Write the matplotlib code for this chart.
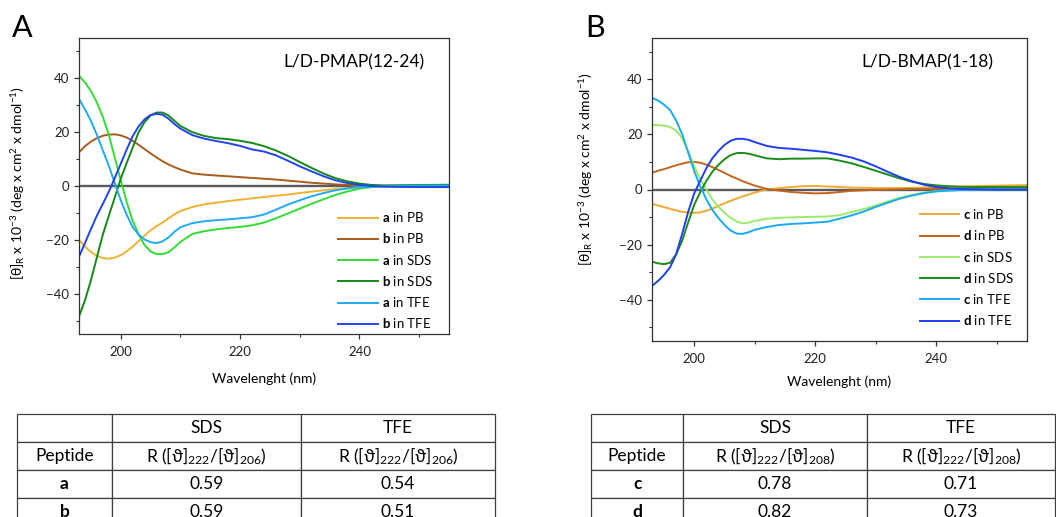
import numpy as np
import matplotlib
matplotlib.use("Agg")
import matplotlib.pyplot as plt
from matplotlib.ticker import MultipleLocator

plt.rcParams['font.family'] = ['Lato', 'DejaVu Sans']
plt.rcParams['mathtext.fontset'] = 'custom'
plt.rcParams['mathtext.rm'] = 'Lato'
plt.rcParams['mathtext.bf'] = 'Lato:bold'
plt.rcParams['mathtext.it'] = 'Lato:italic'

# wavelength grid (nm), shared by all curves
wl = [193, 194, 195, 196, 197, 198, 199, 200, 201, 202, 203, 204, 205, 206, 207, 208, 209, 210,
      212, 214, 216, 218, 220, 222, 224, 226, 228, 230, 232, 234, 236, 238, 240, 242, 244, 246, 250, 255]

# panel A: L/D-PMAP(12-24)
a_pb = [-20.0, -22.5, -24.5, -26.0, -26.8, -27.0, -26.6, -25.7, -24.3, -22.5, -20.5, -18.4, -16.5, -14.9, -13.6, -12.0, -10.5, -9.3,
        -7.8, -6.8, -6.2, -5.6, -5.1, -4.6, -4.1, -3.6, -3.2, -2.6, -2.1, -1.6, -1.1, -0.8, -0.4, -0.2, -0.1, 0.0, 0.1, 0.2]
b_pb = [12.5, 14.8, 16.5, 17.8, 18.7, 19.1, 19.2, 18.8, 18.0, 16.8, 15.3, 13.7, 12.1, 10.6, 9.2, 8.0, 7.0, 6.1,
        4.7, 4.2, 3.9, 3.6, 3.3, 3.0, 2.7, 2.4, 2.0, 1.6, 1.2, 0.9, 0.6, 0.4, 0.2, 0.1, 0.0, -0.1, -0.2, -0.2]
a_sds = [41.0, 38.5, 35.3, 31.0, 25.6, 19.0, 10.5, 2.1, -6.0, -13.0, -18.0, -22.0, -24.3, -25.3, -25.3, -24.6, -22.8, -20.8,
         -17.8, -16.8, -16.1, -15.6, -15.2, -14.6, -13.6, -12.0, -10.2, -8.4, -6.6, -4.9, -3.3, -2.0, -1.0, -0.4, 0.0, 0.2, 0.4, 0.5]
b_sds = [-48.5, -42.5, -35.0, -26.5, -18.0, -11.0, -4.2, 2.7, 8.6, 14.3, 20.0, 23.8, 26.2, 27.3, 27.3, 26.2, 24.2, 22.3,
         20.0, 18.6, 17.8, 17.4, 16.8, 16.0, 14.8, 13.2, 11.2, 8.9, 6.7, 4.6, 2.9, 1.7, 0.9, 0.4, 0.2, 0.2, 0.3, 0.4]
a_tfe = [32.4, 28.5, 24.2, 19.0, 13.2, 7.5, 1.0, -5.3, -10.8, -15.3, -18.1, -19.9, -20.9, -21.2, -20.6, -19.1, -17.0, -15.3,
         -13.8, -13.1, -12.7, -12.4, -12.0, -11.6, -10.6, -8.8, -6.9, -5.3, -3.8, -2.6, -1.6, -0.9, -0.4, -0.2, -0.1, 0.0, 0.1, 0.2]
b_tfe = [-26.3, -21.2, -16.0, -11.0, -6.6, -2.1, 3.0, 8.3, 13.6, 18.5, 22.2, 24.8, 26.4, 26.8, 26.5, 25.0, 23.0, 21.3,
         18.9, 17.6, 16.7, 15.9, 14.9, 13.6, 12.8, 11.4, 9.4, 7.3, 5.4, 3.6, 2.1, 1.1, 0.4, 0.0, -0.2, -0.3, -0.4, -0.4]

# panel B: L/D-BMAP(1-18)
c_pb = [-5.2, -5.8, -6.4, -7.0, -7.6, -8.1, -8.4, -8.5, -8.3, -7.7, -6.9, -6.0, -5.0, -4.1, -3.3, -2.5, -1.8, -1.1,
        0.0, 0.5, 0.9, 1.2, 1.3, 1.1, 0.9, 0.7, 0.6, 0.5, 0.5, 0.5, 0.6, 0.7, 0.8, 0.9, 1.1, 1.2, 1.4, 1.6]
d_pb = [6.1, 6.8, 7.4, 8.1, 8.8, 9.4, 9.9, 10.0, 9.7, 9.0, 8.1, 7.1, 6.0, 4.9, 4.0, 3.0, 2.2, 1.4,
        0.2, -0.4, -0.9, -1.2, -1.4, -1.3, -0.9, -0.5, -0.3, -0.1, 0.0, 0.1, 0.2, 0.2, 0.3, 0.3, 0.4, 0.4, 0.5, 0.6]
c_sds = [23.4, 23.4, 23.2, 22.7, 21.4, 18.5, 13.9, 8.3, 3.8, 0.0, -3.7, -6.3, -8.5, -10.3, -11.6, -12.3, -12.0, -11.4,
         -10.6, -10.3, -10.1, -10.0, -9.9, -9.8, -9.3, -8.2, -7.1, -5.8, -4.3, -3.0, -1.9, -1.1, -0.6, -0.3, -0.1, 0.0, 0.1, 0.1]
d_sds = [-26.2, -26.8, -27.1, -26.6, -23.5, -18.5, -11.8, -5.4, -0.9, 3.2, 6.5, 9.0, 11.0, 12.5, 13.2, 13.3, 13.0, 12.4,
         11.3, 11.0, 11.2, 11.2, 11.3, 11.3, 10.5, 9.5, 8.2, 6.8, 5.4, 4.0, 2.8, 2.0, 1.5, 1.2, 1.0, 0.9, 0.9, 0.9]
c_tfe = [33.3, 32.3, 30.8, 28.8, 25.0, 20.0, 13.3, 6.6, 1.0, -3.6, -7.5, -10.4, -12.9, -14.9, -16.0, -16.1, -15.5, -14.6,
         -13.6, -12.9, -12.5, -12.3, -12.0, -11.7, -10.6, -9.4, -8.0, -6.3, -4.8, -3.3, -2.2, -1.3, -0.7, -0.4, -0.2, -0.1, 0.0, 0.0]
d_tfe = [-35.0, -33.2, -31.0, -28.2, -23.5, -16.0, -8.0, -1.3, 3.3, 7.8, 11.4, 14.0, 16.2, 17.7, 18.4, 18.4, 18.0, 17.2,
         15.8, 15.1, 14.8, 14.4, 14.0, 13.5, 12.6, 11.6, 10.2, 8.4, 6.4, 4.5, 3.0, 1.7, 0.9, 0.4, 0.2, 0.1, 0.0, 0.0]

labels_A = [r"$\mathbf{a}$ in PB", r"$\mathbf{b}$ in PB", r"$\mathbf{a}$ in SDS",
            r"$\mathbf{b}$ in SDS", r"$\mathbf{a}$ in TFE", r"$\mathbf{b}$ in TFE"]
labels_B = [r"$\mathbf{c}$ in PB", r"$\mathbf{d}$ in PB", r"$\mathbf{c}$ in SDS",
            r"$\mathbf{d}$ in SDS", r"$\mathbf{c}$ in TFE", r"$\mathbf{d}$ in TFE"]
colors_A = ['#F0B232', '#A65C1C', '#33DD33', '#138A13', '#22AAFA', '#2244EE']
colors_B = ['#EDAA35', '#C4661C', '#9BEB6A', '#1A8C1A', '#1AAAF2', '#1F3FF0']

# tables
table_A = [['', 'SDS', 'TFE'],
           ['Peptide', r'R ([ϑ]$_{222}$/[ϑ]$_{206}$)', r'R ([ϑ]$_{222}$/[ϑ]$_{206}$)'],
           ['a', '0.59', '0.54'],
           ['b', '0.59', '0.51']]
table_B = [['', 'SDS', 'TFE'],
           ['Peptide', r'R ([ϑ]$_{222}$/[ϑ]$_{208}$)', r'R ([ϑ]$_{222}$/[ϑ]$_{208}$)'],
           ['c', '0.78', '0.71'],
           ['d', '0.82', '0.73']]

W, H = 1056, 517
fig = plt.figure(figsize=(W / 100, H / 100), dpi=100)


def px_axes(x0, y0, x1, y1):
    return fig.add_axes([x0 / W, (H - y1) / H, (x1 - x0) / W, (y1 - y0) / H])


ylab = r"[θ]$_\mathrm{R}$ x 10$^{-3}$ (deg x cm$^{2}$ x dmol$^{-1}$)"


def cd_panel(ax, series, labels, colors, title, title_pos, leg_anchor, ylab_x, ylab_y, xlab_y):
    ax.axhline(0, color='#5a5a5a', lw=1.7, zorder=1.5)
    for ys, lab, col in zip(series, labels, colors):
        ax.plot(wl, ys, color=col, lw=1.4, label=lab, zorder=2)
    ax.set_xlim(193, 255)
    ax.set_ylim(-55, 55)
    ax.xaxis.set_major_locator(MultipleLocator(20))
    ax.xaxis.set_minor_locator(MultipleLocator(10))
    ax.yaxis.set_major_locator(MultipleLocator(20))
    ax.yaxis.set_minor_locator(MultipleLocator(10))
    ax.tick_params(which='both', direction='out', top=False, right=False,
                   colors='#333333', labelcolor='#222222', labelsize=9.5)
    ax.tick_params(which='major', length=3.5, width=0.9)
    ax.tick_params(which='minor', length=2.5, width=0.8)
    ax.tick_params(axis='x', pad=5)
    for sp in ax.spines.values():
        sp.set_color('#333333')
        sp.set_linewidth(0.9)
    ax.set_xlabel("Wavelenght (nm)", fontsize=10)
    ax.xaxis.set_label_coords(0.5, xlab_y)
    ax.set_ylabel(ylab, fontsize=10)
    ax.yaxis.set_label_coords(ylab_x, ylab_y)
    ax.text(title_pos[0], title_pos[1], title, transform=ax.transAxes,
            ha='right', va='center', fontsize=12.5)
    ax.legend(loc='lower right', bbox_to_anchor=leg_anchor, frameon=False,
              fontsize=9.5, handlelength=3.0, handletextpad=0.3,
              labelspacing=0.55, borderpad=0, borderaxespad=0)


axA = px_axes(79, 38, 449, 334)
cd_panel(axA, [a_pb, b_pb, a_sds, b_sds, a_tfe, b_tfe], labels_A, colors_A,
         "L/D-PMAP(12-24)", (0.935, 0.919), (0.955, 0.012), -0.14, 0.51, -0.13)

axB = px_axes(652, 38, 1027, 341)
cd_panel(axB, [c_pb, d_pb, c_sds, d_sds, c_tfe, d_tfe], labels_B, colors_B,
         "L/D-BMAP(1-18)", (0.91, 0.918), (0.965, 0.045), -0.153, 0.568, -0.115)

fig.text(12 / W, 1 - 14 / H, "A", fontsize=22, ha='left', va='top')
fig.text(585 / W, 1 - 14 / H, "B", fontsize=22, ha='left', va='top')


def ratio_table(ax, rows, bold_col0_rows):
    ax.axis('off')
    tb = ax.table(cellText=rows, cellLoc='center', bbox=[0, 0, 1, 1],
                  colWidths=[95, 189, 194])
    tb.auto_set_font_size(False)
    tb.set_fontsize(12.5)
    for (r, c), cell in tb.get_celld().items():
        cell.set_edgecolor('#404040')
        cell.set_linewidth(0.9)
        if c == 0 and r in bold_col0_rows:
            cell.get_text().set_fontweight('bold')
    return tb


tA = px_axes(17, 414, 495, 526)
ratio_table(tA, table_A, (2, 3))
tB = px_axes(591, 414, 1055, 526)
ratio_table(tB, table_B, (2, 3))

fig.savefig("out.png", dpi=100)
